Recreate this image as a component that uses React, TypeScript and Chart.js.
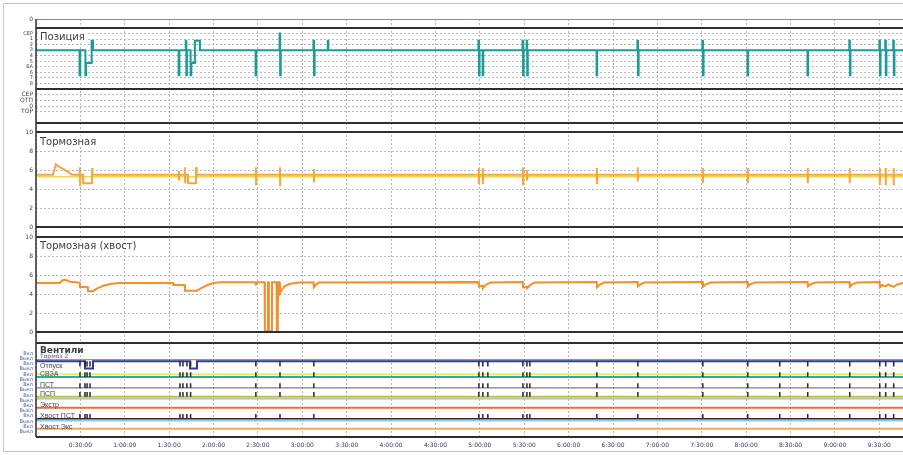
import React, { useEffect, useRef } from "react";
import { Chart, registerables } from "chart.js";

Chart.register(...registerables);

// ---------- axis / label data ----------
const X_MAX = 586; // minutes shown
const X_STEP = 30; // minutes between time ticks
const TOP_LABELS = ["0"];
const POSITION_LABELS = ["СЕР", "1", "2", "3", "4", "5", "БА", "6", "7", "8"];
const MODE_LABELS = ["", "СЕР", "ОТП", "0", "ТОР"];
const BRAKE_TICKS = [0, 2, 4, 6, 8, 10];
const VALVE_TICK_LABELS = [
  "Вкл", "Выкл", "Вкл", "Выкл", "Вкл", "Выкл", "Вкл", "Выкл",
  "Вкл", "Выкл", "Вкл", "Выкл", "Вкл", "Выкл", "Вкл", "Выкл",
];
const PANEL_TITLES = ["Позиция", "Тормозная", "Тормозная (хвост)", "Вентили"];
const VALVE_SUBTITLE = "Тормоз 2";
const VALVE_ROWS = ["Отпуск", "СВЗА", "ПСТ", "ПСП", "Экстр", "Хвост ПСТ", "Хвост Экс"];
const VALVE_ROW_LEVELS = [2.4, 3.2, 4.2, 5.1, 6.15, 7.15, 8.2];

// ---------- series data: [minutes, value] ----------
const POSITION: [number, number][] = [
  [0, 3], [29.4, 7.5], [29.9, 3], [33.4, 7.5], [33.9, 5.3], [37.6, 1.3], [38.5, 3],
  [96.4, 7.5], [96.9, 3], [101.2, 1.3], [101.6, 7.5], [102.0, 3], [104.5, 7.5], [105.0, 5.3], [107.4, 1.3], [110.8, 3],
  [148.4, 7.5], [148.9, 3], [164.6, 0], [165.0, 7.5], [165.4, 3], [187.5, 1.3], [187.9, 7.5], [188.3, 3], [197.2, 1.3], [197.6, 3],
  [299.0, 1.3], [299.4, 7.5], [299.8, 3], [301.9, 7.5], [302.3, 3],
  [328.8, 1.3], [329.2, 7.5], [329.6, 3], [331.6, 1.3], [332.0, 7.5], [332.4, 3],
  [378.9, 7.5], [379.3, 3], [406.5, 1.3], [406.9, 7.5], [407.3, 3], [450.4, 1.3], [450.8, 7.5], [451.2, 3],
  [480.9, 7.5], [481.3, 3], [521.4, 7.5], [521.8, 3],
  [549.7, 1.3], [550.1, 7.5], [550.5, 3], [570.0, 1.3], [570.4, 7.5], [570.8, 3],
  [574.0, 1.3], [574.4, 7.5], [574.8, 3], [579.4, 1.3], [579.8, 7.5], [580.2, 3], [586, 3],
];

const BRAKE: [number, number][] = [
  [0, 5.5], [11.5, 5.5], [13.5, 6.6], [15, 6.4], [21.6, 5.8], [24.3, 5.5],
  [29.5, 5.5], [29.6, 6.3], [29.8, 4.4], [29.9, 5.5],
  [31.8, 5.5], [31.9, 4.6], [37.8, 4.6], [37.9, 6.2], [38.1, 5.5],
  [96.5, 5.5], [96.6, 5.9], [96.7, 5.0], [96.8, 5.5],
  [100.5, 5.5], [100.6, 6.3], [100.8, 4.7], [100.9, 5.5],
  [102.7, 5.5], [102.8, 4.6], [108.1, 4.6], [108.2, 6.3], [108.6, 5.5],
  [148.5, 5.5], [148.6, 6.3], [148.7, 4.5], [148.8, 5.5],
  [164.8, 5.5], [164.9, 6.3], [165.0, 4.4], [165.1, 5.5],
  [187.7, 5.5], [187.8, 6.1], [187.9, 4.8], [188.0, 5.5],
  [299.2, 5.5], [299.3, 6.2], [299.4, 4.5], [299.5, 5.5],
  [301.9, 5.5], [302.0, 6.2], [302.1, 4.5], [302.2, 5.5],
  [329.0, 5.5], [329.1, 6.3], [329.2, 4.5], [329.3, 5.5],
  [331.7, 5.5], [331.8, 6.0], [331.9, 5.0], [332.0, 5.5],
  [379.0, 5.5], [379.1, 6.2], [379.2, 4.6], [379.3, 5.5],
  [406.6, 5.5], [406.7, 6.3], [406.8, 4.8], [406.9, 5.5],
  [450.6, 5.5], [450.7, 6.2], [450.8, 4.6], [450.9, 5.5],
  [481.0, 5.5], [481.1, 6.2], [481.2, 4.6], [481.3, 5.5],
  [521.5, 5.5], [521.6, 6.2], [521.7, 4.6], [521.8, 5.5],
  [549.9, 5.5], [550.0, 6.2], [550.1, 4.6], [550.2, 5.5],
  [570.2, 5.5], [570.3, 6.2], [570.4, 4.4], [570.5, 5.5],
  [574.2, 5.5], [574.3, 6.2], [574.4, 4.4], [574.5, 5.5],
  [579.6, 5.5], [579.7, 6.2], [579.8, 4.4], [579.9, 5.5], [586, 5.5],
];

const BRAKE_AUX: [number, number][] = [[0, 5.3], [586, 5.3]];

const TAIL: [number, number][] = [
  [0, 5.15], [16, 5.15], [18, 5.45], [20, 5.5], [23, 5.3], [29.5, 5.2], [29.8, 4.75], [35, 4.75],
  [35.2, 4.3], [38.5, 4.3], [42, 4.65], [46, 4.9], [50, 5.05], [56, 5.15],
  [92.6, 5.15], [92.8, 4.95], [100.5, 4.95], [100.7, 4.35], [108.8, 4.35], [112, 4.65], [116, 4.95], [120, 5.15], [125, 5.25],
  [148.4, 5.25], [148.6, 4.9], [149, 5.25],
  [154.5, 5.25], [154.7, 0.1], [156.6, 0.1], [156.8, 5.25], [157.2, 5.25], [157.4, 0.1], [159.3, 0.1], [159.5, 5.25],
  [162.6, 5.25], [162.8, 0.1], [163.4, 0.1], [163.6, 5.25],
  [164.4, 5.25], [164.9, 4.1], [166, 4.4], [168, 4.8], [171, 5.05], [178, 5.2],
  [187.5, 5.2], [187.8, 4.7], [189, 4.95], [191, 5.2],
  [299.2, 5.25], [299.4, 4.8], [301.9, 4.9], [302.1, 4.6], [304, 4.95], [307, 5.2],
  [329.0, 5.25], [329.2, 4.7], [331.8, 4.75], [332, 4.6], [334, 4.95], [337, 5.2],
  [379.0, 5.25], [379.2, 4.7], [381, 5.0], [384, 5.2],
  [406.7, 5.25], [406.9, 4.8], [409, 5.05], [411, 5.2],
  [450.6, 5.25], [450.8, 4.75], [453, 5.05], [456, 5.2],
  [481.0, 5.25], [481.2, 4.8], [483, 5.05], [486, 5.2],
  [521.5, 5.25], [521.7, 4.8], [524, 5.05], [527, 5.2],
  [549.9, 5.25], [550.1, 4.75], [552, 5.05], [555, 5.2],
  [570.2, 5.25], [570.4, 4.7], [572, 4.95], [574.3, 4.8], [576, 5.0], [579.7, 4.75], [582, 5.0], [586, 5.15],
];

const VALVE_RELEASE: [number, number][] = [
  [0, 1.75], [33.1, 2.45], [38.5, 1.75], [104.1, 2.45], [108.8, 1.75], [586, 1.75],
];
const VALVE_LINE_LEVELS = [1.6, 3.0, 3.25, 4.3, 5.15, 5.35, 6.2, 7.25, 7.45, 8.2];
const VALVE_EVENTS = [
  29.7, 33.1, 34.5, 36.5, 97.3, 99.3, 102.0, 104.5, 148.6, 164.9, 187.8, 299.3, 302.0, 305.4,
  329.1, 331.8, 333.8, 379.1, 406.8, 450.7, 481.1, 502.7, 521.6, 550.0, 570.3, 574.3, 579.7,
];
const VALVE_TICK_ROWS: [number, number][] = [[1.75, 2.25], [2.8, 3.25], [3.85, 4.3], [4.7, 5.15], [6.8, 7.25]];

// ---------- styles ----------
const VALVE_LINE_COLORS = ["#e8564a", "#ece36a", "#22b3a0", "#5d5d6b", "#bcc63c", "#9a9aa0", "#f26a3a", "#25253a", "#86cde6", "#f5a65c"];
const VALVE_LINE_WIDTHS = [1, 1.5, 2, 1, 2, 1, 2, 1.5, 1.5, 2];
const GRID = "#b8b8b8";
const FONT = "DejaVu Sans";

const pts = (arr: [number, number][]) => arr.map(([x, y]) => ({ x, y }));

const fmtTime = (v: number) => {
  if (v <= 0) return "";
  const h = Math.floor(v / 60);
  const m = Math.round(v % 60);
  return `${h}:${String(m).padStart(2, "0")}:00`;
};

const fixW = (s: any) => {
  s.width = 36;
};

const panelPlugin = {
  id: "panels",
  beforeDraw(chart: any) {
    const { ctx, width, height } = chart;
    ctx.save();
    ctx.fillStyle = "#ffffff";
    ctx.fillRect(0, 0, width, height);
    ctx.strokeStyle = "#c8c8c8";
    ctx.lineWidth = 1;
    ctx.strokeRect(3.5, 3.5, width + 4, height - 7);
    ctx.restore();
  },
  afterDatasetsDraw(chart: any) {
    const { ctx, chartArea } = chart;
    const { left, right, top, bottom } = chartArea;
    const S = chart.scales;
    ctx.save();
    ctx.strokeStyle = "#8a8a95";
    ctx.lineWidth = 1;
    ctx.beginPath();
    ctx.moveTo(left, top + 0.5);
    ctx.lineTo(right, top + 0.5);
    ctx.stroke();
    ctx.strokeStyle = "#2e2e3a";
    ctx.lineWidth = 2;
    for (const id of ["yPos", "yMode", "yBrake", "yTail", "yValve"]) {
      const s = S[id];
      ctx.beginPath();
      ctx.moveTo(left, s.top);
      ctx.lineTo(right, s.top);
      ctx.moveTo(left, s.bottom);
      ctx.lineTo(right, s.bottom);
      ctx.stroke();
    }
    ctx.lineWidth = 1.5;
    ctx.beginPath();
    ctx.moveTo(left, top);
    ctx.lineTo(left, bottom);
    ctx.stroke();

    const titleAt = (text: string, y: number, font: string) => {
      ctx.font = font;
      const w = ctx.measureText(text).width;
      ctx.fillStyle = "#ffffff";
      ctx.fillRect(left + 2, y - 9, w + 4, 11);
      ctx.fillStyle = "#3c3c44";
      ctx.textBaseline = "alphabetic";
      ctx.textAlign = "left";
      ctx.fillText(text, left + 4, y);
    };
    titleAt(PANEL_TITLES[0], S.yPos.top + 12, `10px "${FONT}"`);
    titleAt(PANEL_TITLES[1], S.yBrake.top + 13, `10px "${FONT}"`);
    titleAt(PANEL_TITLES[2], S.yTail.top + 12, `10px "${FONT}"`);
    titleAt(PANEL_TITLES[3], S.yValve.top + 10, `bold 9px "${FONT}"`);
    ctx.font = `6px "${FONT}"`;
    ctx.fillStyle = "#55556a";
    ctx.fillText(VALVE_SUBTITLE, left + 4, S.yValve.top + 15);
    ctx.font = `7px "Liberation Sans"`;
    ctx.fillStyle = "#44444c";
    VALVE_ROWS.forEach((name, i) => {
      ctx.fillText(name, left + 4, S.yValve.getPixelForValue(VALVE_ROW_LEVELS[i]));
    });
    ctx.restore();
  },
};

const yBase = (weight: number, stackWeight: number) => ({
  type: "linear" as const,
  position: "left" as const,
  stack: "panels",
  weight,
  stackWeight,
  afterFit: fixW,
  border: { display: false, dash: [2, 2] },
});

export default function App() {
  const ref = useRef<HTMLCanvasElement | null>(null);

  useEffect(() => {
    if (!ref.current) return;

    const tickData: any[] = [];
    VALVE_TICK_ROWS.forEach(([a, b]) => {
      VALVE_EVENTS.forEach((t) => {
        tickData.push({ x: t, y: a }, { x: t, y: b }, { x: t, y: null });
      });
    });

    const valveLines = VALVE_LINE_LEVELS.map((lvl, i) => ({
      label: `v${i}`,
      data: [{ x: 0, y: lvl }, { x: X_MAX, y: lvl }],
      yAxisID: "yValve",
      borderColor: VALVE_LINE_COLORS[i],
      borderWidth: VALVE_LINE_WIDTHS[i],
      pointRadius: 0,
    }));

    const tickFont = { family: FONT, size: 6 };

    const chart = new Chart(ref.current, {
      type: "line",
      data: {
        datasets: [
          { label: "events", data: tickData, yAxisID: "yValve", borderColor: "#262634", borderWidth: 1.5, pointRadius: 0, spanGaps: false },
          { label: "Отпуск", data: pts(VALVE_RELEASE), yAxisID: "yValve", borderColor: "#2b3d9c", borderWidth: 2, pointRadius: 0, stepped: true },
          { label: "Позиция", data: pts(POSITION), yAxisID: "yPos", borderColor: "#1a9c9a", borderWidth: 2, pointRadius: 0, stepped: true },
          { label: "Тормозная", data: pts(BRAKE), yAxisID: "yBrake", borderColor: "#f6a83f", borderWidth: 2, pointRadius: 0 },
          { label: "Тормозная доп", data: pts(BRAKE_AUX), yAxisID: "yBrake", borderColor: "#f4d35a", borderWidth: 1.5, pointRadius: 0 },
          { label: "Тормозная (хвост)", data: pts(TAIL), yAxisID: "yTail", borderColor: "#f2902e", borderWidth: 2, pointRadius: 0 },
          ...valveLines,
        ] as any,
      },
      options: {
        responsive: false,
        animation: false,
        events: [],
        layout: { padding: { top: 19, left: 0, right: 0, bottom: 0 } },
        plugins: { legend: { display: false }, tooltip: { enabled: false } },
        elements: { line: { tension: 0 } },
        scales: {
          x: {
            type: "linear",
            position: "bottom",
            min: 0,
            max: X_MAX,
            afterFit: (s: any) => {
              s.height = 18;
            },
            border: { display: false, dash: [2, 2] },
            grid: { color: GRID, drawTicks: false },
            ticks: {
              stepSize: X_STEP,
              includeBounds: false,
              autoSkip: false,
              maxRotation: 0,
              padding: 5,
              color: "#2c3a58",
              font: tickFont,
              callback: (v: any) => fmtTime(Number(v)),
            },
          },
          yTop: {
            ...yBase(90, 9),
            min: 0,
            max: 1,
            reverse: true,
            border: { display: false },
            grid: { display: false, drawTicks: false },
            ticks: { stepSize: 1, autoSkip: false, padding: 3, color: "#444", font: tickFont, callback: (v: any) => TOP_LABELS[Number(v)] ?? "" },
          },
          yPos: {
            ...yBase(80, 61),
            min: -1,
            max: 10,
            reverse: true,
            grid: { drawTicks: false, color: (c: any) => (c.tick && c.tick.value >= 0 && c.tick.value <= 9 ? GRID : "rgba(0,0,0,0)") },
            ticks: { stepSize: 1, autoSkip: false, padding: 3, color: "#444", font: { family: FONT, size: 5 }, callback: (v: any) => POSITION_LABELS[Number(v)] ?? "" },
          },
          yMode: {
            ...yBase(70, 34),
            min: 0,
            max: 6,
            reverse: true,
            grid: { drawTicks: false, color: (c: any) => (c.tick && c.tick.value >= 1 && c.tick.value <= 4 ? GRID : "rgba(0,0,0,0)") },
            ticks: { stepSize: 1, autoSkip: false, padding: 3, color: "#444", font: tickFont, callback: (v: any) => MODE_LABELS[Number(v)] ?? "" },
          },
          gap1: {
            ...yBase(60, 9),
            min: 0,
            max: 1,
            grid: { display: false, drawTicks: false },
            ticks: { display: false },
          },
          yBrake: {
            ...yBase(50, 95),
            min: 0,
            max: 10,
            grid: { drawTicks: false, color: (c: any) => (c.tick && c.tick.value > 0 && c.tick.value < 10 ? GRID : "rgba(0,0,0,0)") },
            afterBuildTicks: (s: any) => {
              s.ticks = BRAKE_TICKS.map((value) => ({ value }));
            },
            ticks: { autoSkip: false, padding: 3, color: "#444", font: tickFont },
          },
          gap2: {
            ...yBase(40, 10),
            min: 0,
            max: 1,
            grid: { display: false, drawTicks: false },
            ticks: { display: false },
          },
          yTail: {
            ...yBase(30, 95),
            min: 0,
            max: 10,
            grid: { drawTicks: false, color: (c: any) => (c.tick && c.tick.value > 0 && c.tick.value < 10 ? GRID : "rgba(0,0,0,0)") },
            afterBuildTicks: (s: any) => {
              s.ticks = BRAKE_TICKS.map((value) => ({ value }));
            },
            ticks: { autoSkip: false, padding: 3, color: "#444", font: tickFont },
          },
          gap3: {
            ...yBase(20, 11),
            min: 0,
            max: 1,
            grid: { display: false, drawTicks: false },
            ticks: { display: false },
          },
          yValve: {
            ...yBase(10, 94),
            min: 0,
            max: 9,
            reverse: true,
            grid: { display: false, drawTicks: false },
            ticks: {
              stepSize: 0.5,
              autoSkip: false,
              padding: 3,
              color: "#4d64a0",
              font: { family: FONT, size: 5 },
              callback: (v: any) => {
                const n = Number(v);
                if (n < 1 || n > 8.5) return "";
                return VALVE_TICK_LABELS[Math.round((n - 1) * 2)] ?? "";
              },
            },
          },
        } as any,
      },
      plugins: [panelPlugin],
    });

    return () => chart.destroy();
  }, []);

  return (
    <canvas
      ref={ref}
      width={903}
      height={455}
      style={{ position: "absolute", left: 0, top: 0, width: 903, height: 455 }}
    />
  );
}
